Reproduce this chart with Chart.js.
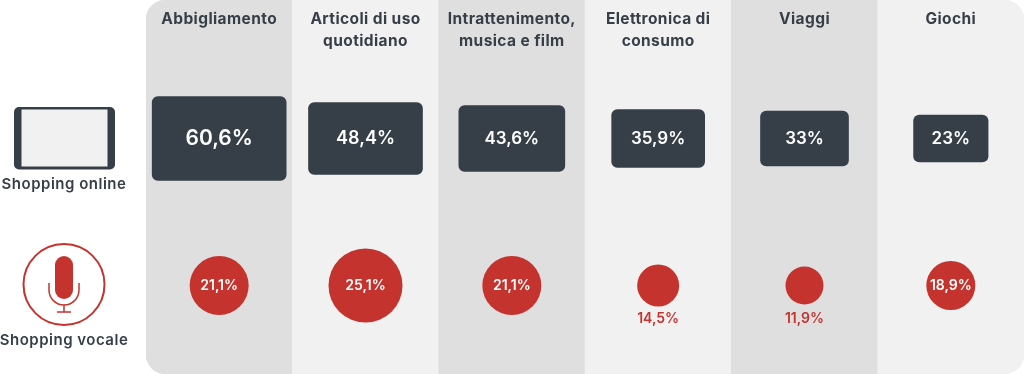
<!DOCTYPE html>
<html lang="it">
<head>
    <meta charset="UTF-8">
    <title>Shopping online e vocale</title>
    <script src="https://cdn.jsdelivr.net/npm/chart.js@4.4.1/dist/chart.umd.min.js"></script>
    <style>
        html, body {margin: 0; padding: 0; background: #fff}
        canvas {display: block}
    </style>
</head>
<body>
    <canvas id="chart" width="1024" height="374"></canvas>
    <script>
        // data
        const categories = [
            ["Abbigliamento"],
            ["Articoli di uso", "quotidiano"],
            ["Intrattenimento,", "musica e film"],
            ["Elettronica di", "consumo"],
            ["Viaggi"],
            ["Giochi"]
        ];
        const onlineShare = [60.6, 48.4, 43.6, 35.9, 33, 23];
        const voiceShare = [21.1, 25.1, 21.1, 14.5, 11.9, 18.9];
        const rowNames = ["Shopping online", "Shopping vocale"];

        // look of the marks
        const boxW = [134, 114, 106, 93, 88, 74.5];
        const boxH = [84, 72, 66, 58, 55, 47];
        const dotR = [29.5, 37, 29.5, 21, 19, 24.5];
        const boxFont = [21, 18, 17, 17, 17, 17];
        const onlineRow = 138.5;
        const voiceRow = 285.5;
        const dark = "#363f47";
        const red = "#c4332d";
        const font = "Inter, 'Noto Sans', sans-serif";

        const pct = v => String(v).replace(".", ",") + "%";
        const labels = categories.map(c => c.join(" "));

        // one dataset per box, a bar can only get its own thickness this way
        const boxSets = labels.map((name, i) => ({
            type: "bar",
            order: 1,
            barThickness: boxW[i],
            backgroundColor: dark,
            borderRadius: 6,
            borderSkipped: false,
            data: labels.map((n, j) => j === i ? [onlineRow - boxH[i] / 2, onlineRow + boxH[i] / 2] : null)
        }));

        const columnSet = {
            type: "bar",
            order: 2,
            categoryPercentage: 1,
            barPercentage: 1,
            borderSkipped: false,
            data: labels.map(() => [0, 374]),
            backgroundColor: ctx => ctx.dataIndex % 2 ? "#f1f1f1" : "#dfdfdf",
            borderRadius: ctx => ({
                topLeft: ctx.dataIndex === 0 ? 20 : 0,
                bottomLeft: ctx.dataIndex === 0 ? 20 : 0,
                topRight: ctx.dataIndex === 5 ? 20 : 0,
                bottomRight: ctx.dataIndex === 5 ? 20 : 0
            })
        };

        const voiceSet = {
            type: "bubble",
            order: 0,
            backgroundColor: red,
            borderWidth: 0,
            data: labels.map((n, i) => ({x: n, y: voiceRow, r: dotR[i], v: voiceShare[i]}))
        };

        function text(ctx, str, x, y, size, weight, color, spacing) {
            ctx.font = weight + " " + size + "px " + font;
            ctx.letterSpacing = (spacing || 0) + "px";
            ctx.fillStyle = color;
            ctx.textAlign = "center";
            ctx.textBaseline = "middle";
            ctx.fillText(str, x, y);
        }

        function drawTablet(ctx) {
            ctx.fillStyle = dark;
            ctx.beginPath();
            ctx.roundRect(14, 107, 101, 62.5, 5);
            ctx.fill();
            ctx.fillStyle = "#f1f1f1";
            ctx.fillRect(21.5, 109.5, 86, 57);
        }

        function drawMic(ctx) {
            ctx.strokeStyle = red;
            ctx.fillStyle = red;
            ctx.lineWidth = 2;
            ctx.beginPath();
            ctx.arc(64, 284.5, 40.5, 0, Math.PI * 2);
            ctx.stroke();
            ctx.beginPath();
            ctx.roundRect(55, 256, 18, 43, 9);
            ctx.fill();
            ctx.lineWidth = 1.5;
            ctx.beginPath();
            ctx.moveTo(49, 283);
            ctx.lineTo(49, 290);
            ctx.arc(64, 290, 15, Math.PI, 0, true);
            ctx.lineTo(79, 283);
            ctx.moveTo(64, 305);
            ctx.lineTo(64, 312);
            ctx.moveTo(57, 312);
            ctx.lineTo(71, 312);
            ctx.stroke();
        }

        const overlay = {
            id: "overlay",
            afterDatasetsDraw(chart) {
                const ctx = chart.ctx;
                const x = chart.scales.x;
                const y = chart.scales.y;
                ctx.save();
                labels.forEach((n, i) => {
                    const cx = x.getPixelForValue(i);
                    categories[i].forEach((line, k) => {
                        text(ctx, line, cx, 19.5 + k * 22, 15.5, 700, dark, 0.4);
                    });
                    text(ctx, pct(onlineShare[i]), cx, y.getPixelForValue(onlineRow) + 0.5, boxFont[i], 600, "#fff");
                    if (dotR[i] < 22) {
                        text(ctx, pct(voiceShare[i]), cx, y.getPixelForValue(voiceRow) + 33.5, 14, 600, red);
                    } else {
                        text(ctx, pct(voiceShare[i]), cx, y.getPixelForValue(voiceRow), 14, 600, "#fff");
                    }
                });
                drawTablet(ctx);
                drawMic(ctx);
                text(ctx, rowNames[0], 64, 184.5, 15, 600, dark, 0.5);
                text(ctx, rowNames[1], 64, 340.5, 15, 600, dark, 0.5);
                ctx.restore();
            }
        };

        new Chart(document.getElementById("chart"), {
            data: {labels: labels, datasets: [columnSet, ...boxSets, voiceSet]},
            plugins: [overlay],
            options: {
                responsive: false,
                animation: false,
                layout: {padding: {left: 146}, autoPadding: false},
                plugins: {legend: {display: false}, tooltip: {enabled: false}},
                scales: {
                    x: {type: "category", display: false, stacked: true, offset: true, grid: {display: false}},
                    y: {type: "linear", display: false, reverse: true, min: 0, max: 374, grid: {display: false}}
                }
            }
        });
    </script>
</body>
</html>
